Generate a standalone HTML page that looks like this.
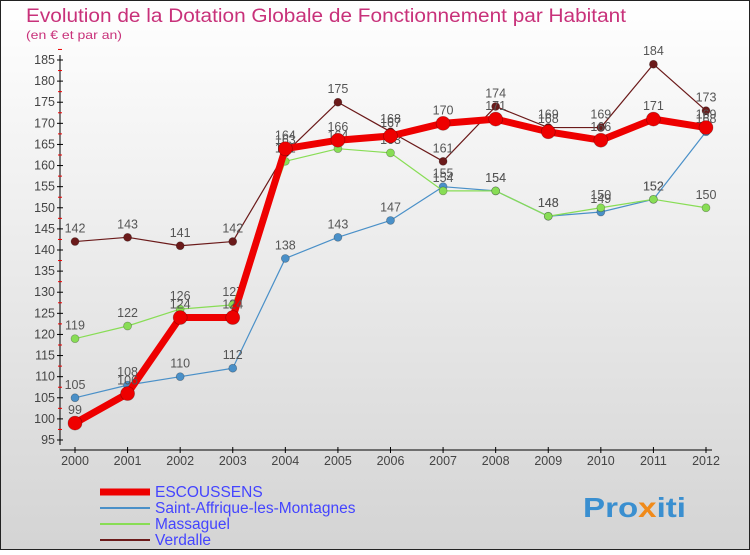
<!DOCTYPE html>
<html><head><meta charset="utf-8"><style>
body{margin:0;width:750px;height:550px;overflow:hidden;font-family:"Liberation Sans",sans-serif}
</style></head><body>
<svg id="c" width="750" height="550" xmlns="http://www.w3.org/2000/svg">
<defs><linearGradient id="bg" x1="0" y1="0" x2="0" y2="1"><stop offset="0" stop-color="#ffffff"/><stop offset="1" stop-color="#d4d4d4"/></linearGradient></defs>
<rect x="0.5" y="0.5" width="749" height="549" fill="url(#bg)" stroke="#222"/>
<text x="26" y="22" font-size="19" textLength="600" lengthAdjust="spacingAndGlyphs" fill="#c8317a">Evolution de la Dotation Globale de Fonctionnement par Habitant</text>
<text x="26" y="39" font-size="12" textLength="96" lengthAdjust="spacingAndGlyphs" fill="#c8317a">(en € et par an)</text>
<g id="axes"></g><g id="series"></g>
<g>
<line x1="100" y1="492" x2="150" y2="492" stroke="#ee0000" stroke-width="7"/>
<text x="155" y="497" font-size="15.5" fill="#4444ff">ESCOUSSENS</text>
<line x1="100" y1="508" x2="150" y2="508" stroke="#4a90c8" stroke-width="2"/>
<text x="155" y="513" font-size="15.5" fill="#4444ff">Saint-Affrique-les-Montagnes</text>
<line x1="100" y1="524" x2="150" y2="524" stroke="#88dd55" stroke-width="2"/>
<text x="155" y="529" font-size="15.5" fill="#4444ff">Massaguel</text>
<line x1="100" y1="540" x2="150" y2="540" stroke="#6b1a1a" stroke-width="2"/>
<text x="155" y="545" font-size="15.5" fill="#4444ff">Verdalle</text>
</g>
<text x="583" y="517" font-size="28" font-weight="bold" textLength="103" lengthAdjust="spacingAndGlyphs" fill="#3a8fd0">Pro<tspan fill="#f08a1a">x</tspan>iti</text>
</svg>
<script>
const years=[2000,2001,2002,2003,2004,2005,2006,2007,2008,2009,2010,2011,2012];
const escoussens=[99,106,124,124,164,166,167,170,171,168,166,171,169];
const saintAffrique=[105,108,110,112,138,143,147,155,154,148,149,152,168];
const massaguel=[119,122,126,127,161,164,163,154,154,148,150,152,150];
const verdalle=[142,143,141,142,163,175,168,161,174,169,169,184,173];
const yTicks=[95,100,105,110,115,120,125,130,135,140,145,150,155,160,165,170,175,180,185];
const NS="http://www.w3.org/2000/svg";
function X(i){return 75+i*(706-75)/12;}
function Y(v){return 440-(v-95)*(380/90);}
function mk(t,a,p){const e=document.createElementNS(NS,t);for(const k in a)e.setAttribute(k,a[k]);p.appendChild(e);return e;}
const ax=document.getElementById('axes');
let yl=mk('line',{x1:60,y1:55,x2:60,y2:445,stroke:'#000'},ax);


let xl=mk('line',{x1:60,y1:450,x2:712,y2:450,stroke:'#000'},ax);


yTicks.forEach(v=>{
 mk('line',{x1:57,y1:Y(v),x2:63,y2:Y(v),stroke:'#000'},ax);
 mk('line',{x1:58,y1:Y(v+2.5),x2:62,y2:Y(v+2.5),stroke:'#e00'},ax);
 const t=mk('text',{x:55,y:Y(v)+4,'font-size':12.5,'text-anchor':'end',fill:'#444'},ax);t.textContent=v;
 
 
});
years.forEach((y,i)=>{
 mk('line',{x1:X(i),y1:447,x2:X(i),y2:453,stroke:'#000'},ax);
 const t=mk('text',{x:X(i),y:465,'font-size':12.5,'text-anchor':'middle',fill:'#444'},ax);t.textContent=y;
 
 
});
const sg=document.getElementById('series');
function draw(vals,color,w,r,name){
 const g=mk('g',{},sg);
 
 
 mk('polyline',{points:vals.map((v,i)=>X(i)+','+Y(v)).join(' '),fill:'none',stroke:color,'stroke-width':w,'stroke-linejoin':'round'},g);
 vals.forEach((v,i)=>{
  const c=mk('circle',{cx:X(i),cy:Y(v),r:r,fill:color,stroke:'rgba(0,0,0,0.3)','stroke-width':0.7},g);
  
  
  const t=mk('text',{x:X(i),y:Y(v)-9,'font-size':12.5,'text-anchor':'middle',fill:'#555'},g);t.textContent=v;
 });
}
draw(saintAffrique,'#4a90c8',1.2,4,'saint-affrique');
draw(massaguel,'#88dd55',1.2,4,'massaguel');
draw(verdalle,'#6b1a1a',1.2,4,'verdalle');
draw(escoussens,'#ee0000',7,7,'escoussens');
</script>
</body></html>
